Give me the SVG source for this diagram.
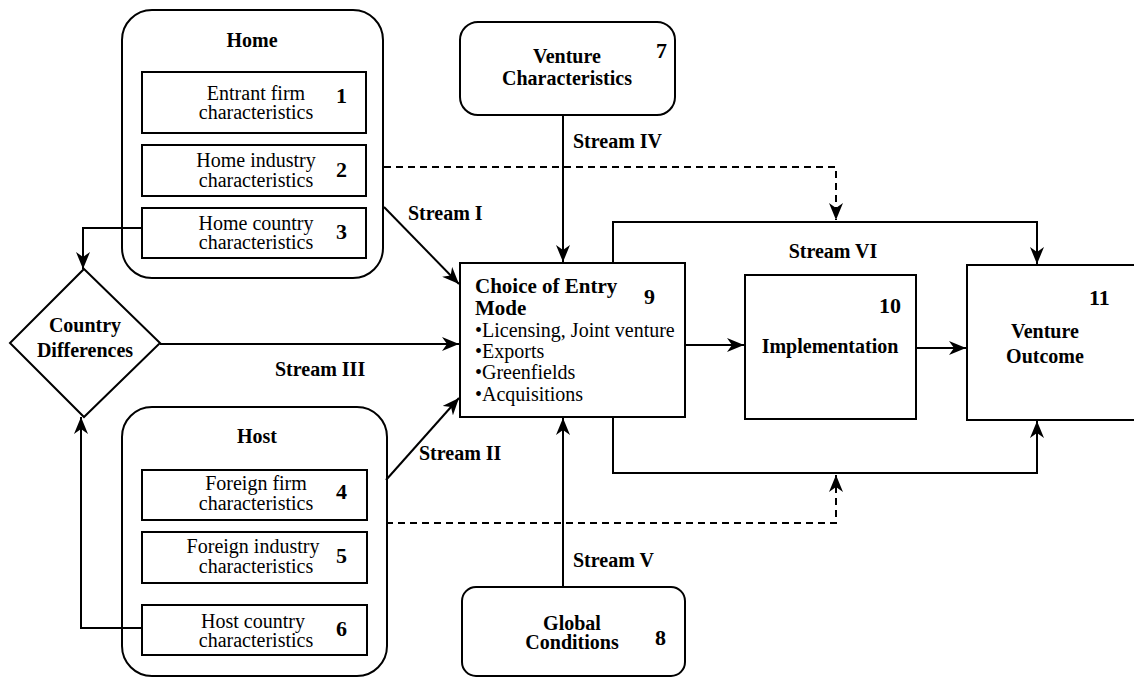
<svg xmlns="http://www.w3.org/2000/svg" width="1134" height="679" viewBox="0 0 1134 679">
<defs>
<style>
.box{fill:#fff;stroke:#000;stroke-width:2}
.grp{fill:none;stroke:#000;stroke-width:2}
.t{font-family:"Liberation Serif","Times New Roman",serif;font-size:20px;fill:#000}
.b{font-weight:bold}
.c{text-anchor:middle}
.n{font-family:"Liberation Serif","Times New Roman",serif;font-size:22px;font-weight:bold;fill:#000}
.ln{fill:none;stroke:#000;stroke-width:2}
.dash{fill:none;stroke:#000;stroke-width:2;stroke-dasharray:7,5}
</style>
<marker id="ah" markerUnits="userSpaceOnUse" markerWidth="18" markerHeight="14" viewBox="0 0 18 14" refX="17" refY="7" orient="auto">
<path d="M0,0 L17,7 L0,14 L5,7 Z" fill="#000"/>
</marker>
</defs>
<rect width="1134" height="679" fill="#fff"/>

<g id="home">
<rect class="grp" x="122" y="10" width="261" height="268" rx="30"/>
<text class="t b c" x="252" y="47">Home</text>
</g>
<g id="node1">
<rect class="box" x="142" y="72" width="224" height="61"/>
<text class="t c" x="256" y="100">Entrant firm</text>
<text class="t c" x="256" y="119">characteristics</text>
<text class="n" x="336" y="103">1</text>
</g>
<g id="node2">
<rect class="box" x="142" y="145" width="224" height="51"/>
<text class="t c" x="256" y="167">Home industry</text>
<text class="t c" x="256" y="187">characteristics</text>
<text class="n" x="336" y="177">2</text>
</g>
<g id="node3">
<rect class="box" x="142" y="208" width="224" height="50"/>
<text class="t c" x="256" y="230">Home country</text>
<text class="t c" x="256" y="249">characteristics</text>
<text class="n" x="336" y="239">3</text>
</g>

<g id="diff">
<polygon class="box" points="84,269 160,343 84,417 10,343"/>
<text class="t b c" x="85" y="332">Country</text>
<text class="t b c" x="85" y="357">Differences</text>
</g>

<g id="host">
<rect class="grp" x="122" y="407" width="265" height="269" rx="30"/>
<text class="t b c" x="257" y="443">Host</text>
</g>
<g id="node4">
<rect class="box" x="142" y="470" width="225" height="50"/>
<text class="t c" x="256" y="490">Foreign firm</text>
<text class="t c" x="256" y="510">characteristics</text>
<text class="n" x="336" y="499">4</text>
</g>
<g id="node5">
<rect class="box" x="142" y="532" width="225" height="51"/>
<text class="t c" x="253" y="553">Foreign industry</text>
<text class="t c" x="256" y="573">characteristics</text>
<text class="n" x="336" y="563">5</text>
</g>
<g id="node6">
<rect class="box" x="142" y="605" width="225" height="50"/>
<text class="t c" x="253" y="628">Host country</text>
<text class="t c" x="256" y="647">characteristics</text>
<text class="n" x="336" y="636">6</text>
</g>

<g id="node7">
<rect class="box" x="460" y="22" width="215" height="93" rx="18"/>
<text class="t b c" x="567" y="63">Venture</text>
<text class="t b c" x="567" y="85">Characteristics</text>
<text class="n" x="656" y="58">7</text>
</g>

<g id="node8">
<rect class="box" x="462" y="587" width="223" height="89" rx="14"/>
<text class="t b c" x="572" y="630">Global</text>
<text class="t b c" x="572" y="649">Conditions</text>
<text class="n" x="655" y="645">8</text>
</g>

<g id="node9">
<rect class="box" x="460" y="263" width="225" height="154"/>
<text class="t b" x="475" y="293" style="font-size:21px">Choice of Entry</text>
<text class="t b" x="475" y="315" style="font-size:21px">Mode</text>
<text class="n" x="644" y="304">9</text>
<text class="t" x="475" y="337">•Licensing, Joint venture</text>
<text class="t" x="475" y="358">•Exports</text>
<text class="t" x="475" y="379">•Greenfields</text>
<text class="t" x="475" y="401">•Acquisitions</text>
</g>

<g id="node10">
<rect class="box" x="745" y="275" width="171" height="144"/>
<text class="t b c" x="830" y="353">Implementation</text>
<text class="n" x="879" y="313">10</text>
</g>

<g id="node11">
<rect class="box" x="967" y="265" width="180" height="155"/>
<text class="t b c" x="1045" y="338">Venture</text>
<text class="t b c" x="1045" y="363">Outcome</text>
<text class="n" x="1089" y="305">11</text>
</g>

<g id="connectors">
<path class="ln" d="M142,228 H83 V269" marker-end="url(#ah)"/>
<path class="ln" d="M142,628 H81 V417" marker-end="url(#ah)"/>
<path class="ln" d="M384,207 L459,284" marker-end="url(#ah)"/>
<path class="ln" d="M386,480 L459,398" marker-end="url(#ah)"/>
<path class="ln" d="M160,344 H459" marker-end="url(#ah)"/>
<path class="ln" d="M563,115 V262" marker-end="url(#ah)"/>
<path class="ln" d="M563,587 V418" marker-end="url(#ah)"/>
<path class="ln" d="M685,345 H744" marker-end="url(#ah)"/>
<path class="ln" d="M916,348 H966" marker-end="url(#ah)"/>
<path class="ln" d="M613,263 V222 H1037 V264" marker-end="url(#ah)"/>
<path class="ln" d="M613,417 V473 H1037 V421" marker-end="url(#ah)"/>
<path class="dash" d="M384,167 H836 V220" marker-end="url(#ah)"/>
<path class="dash" d="M386,523 H836 V475" marker-end="url(#ah)"/>
<text class="t b" x="408" y="220">Stream I</text>
<text class="t b" x="419" y="460">Stream II</text>
<text class="t b" x="275" y="376">Stream III</text>
<text class="t b" x="573" y="148">Stream IV</text>
<text class="t b" x="573" y="567">Stream V</text>
<text class="t b c" x="833" y="258">Stream VI</text>
</g>
</svg>
